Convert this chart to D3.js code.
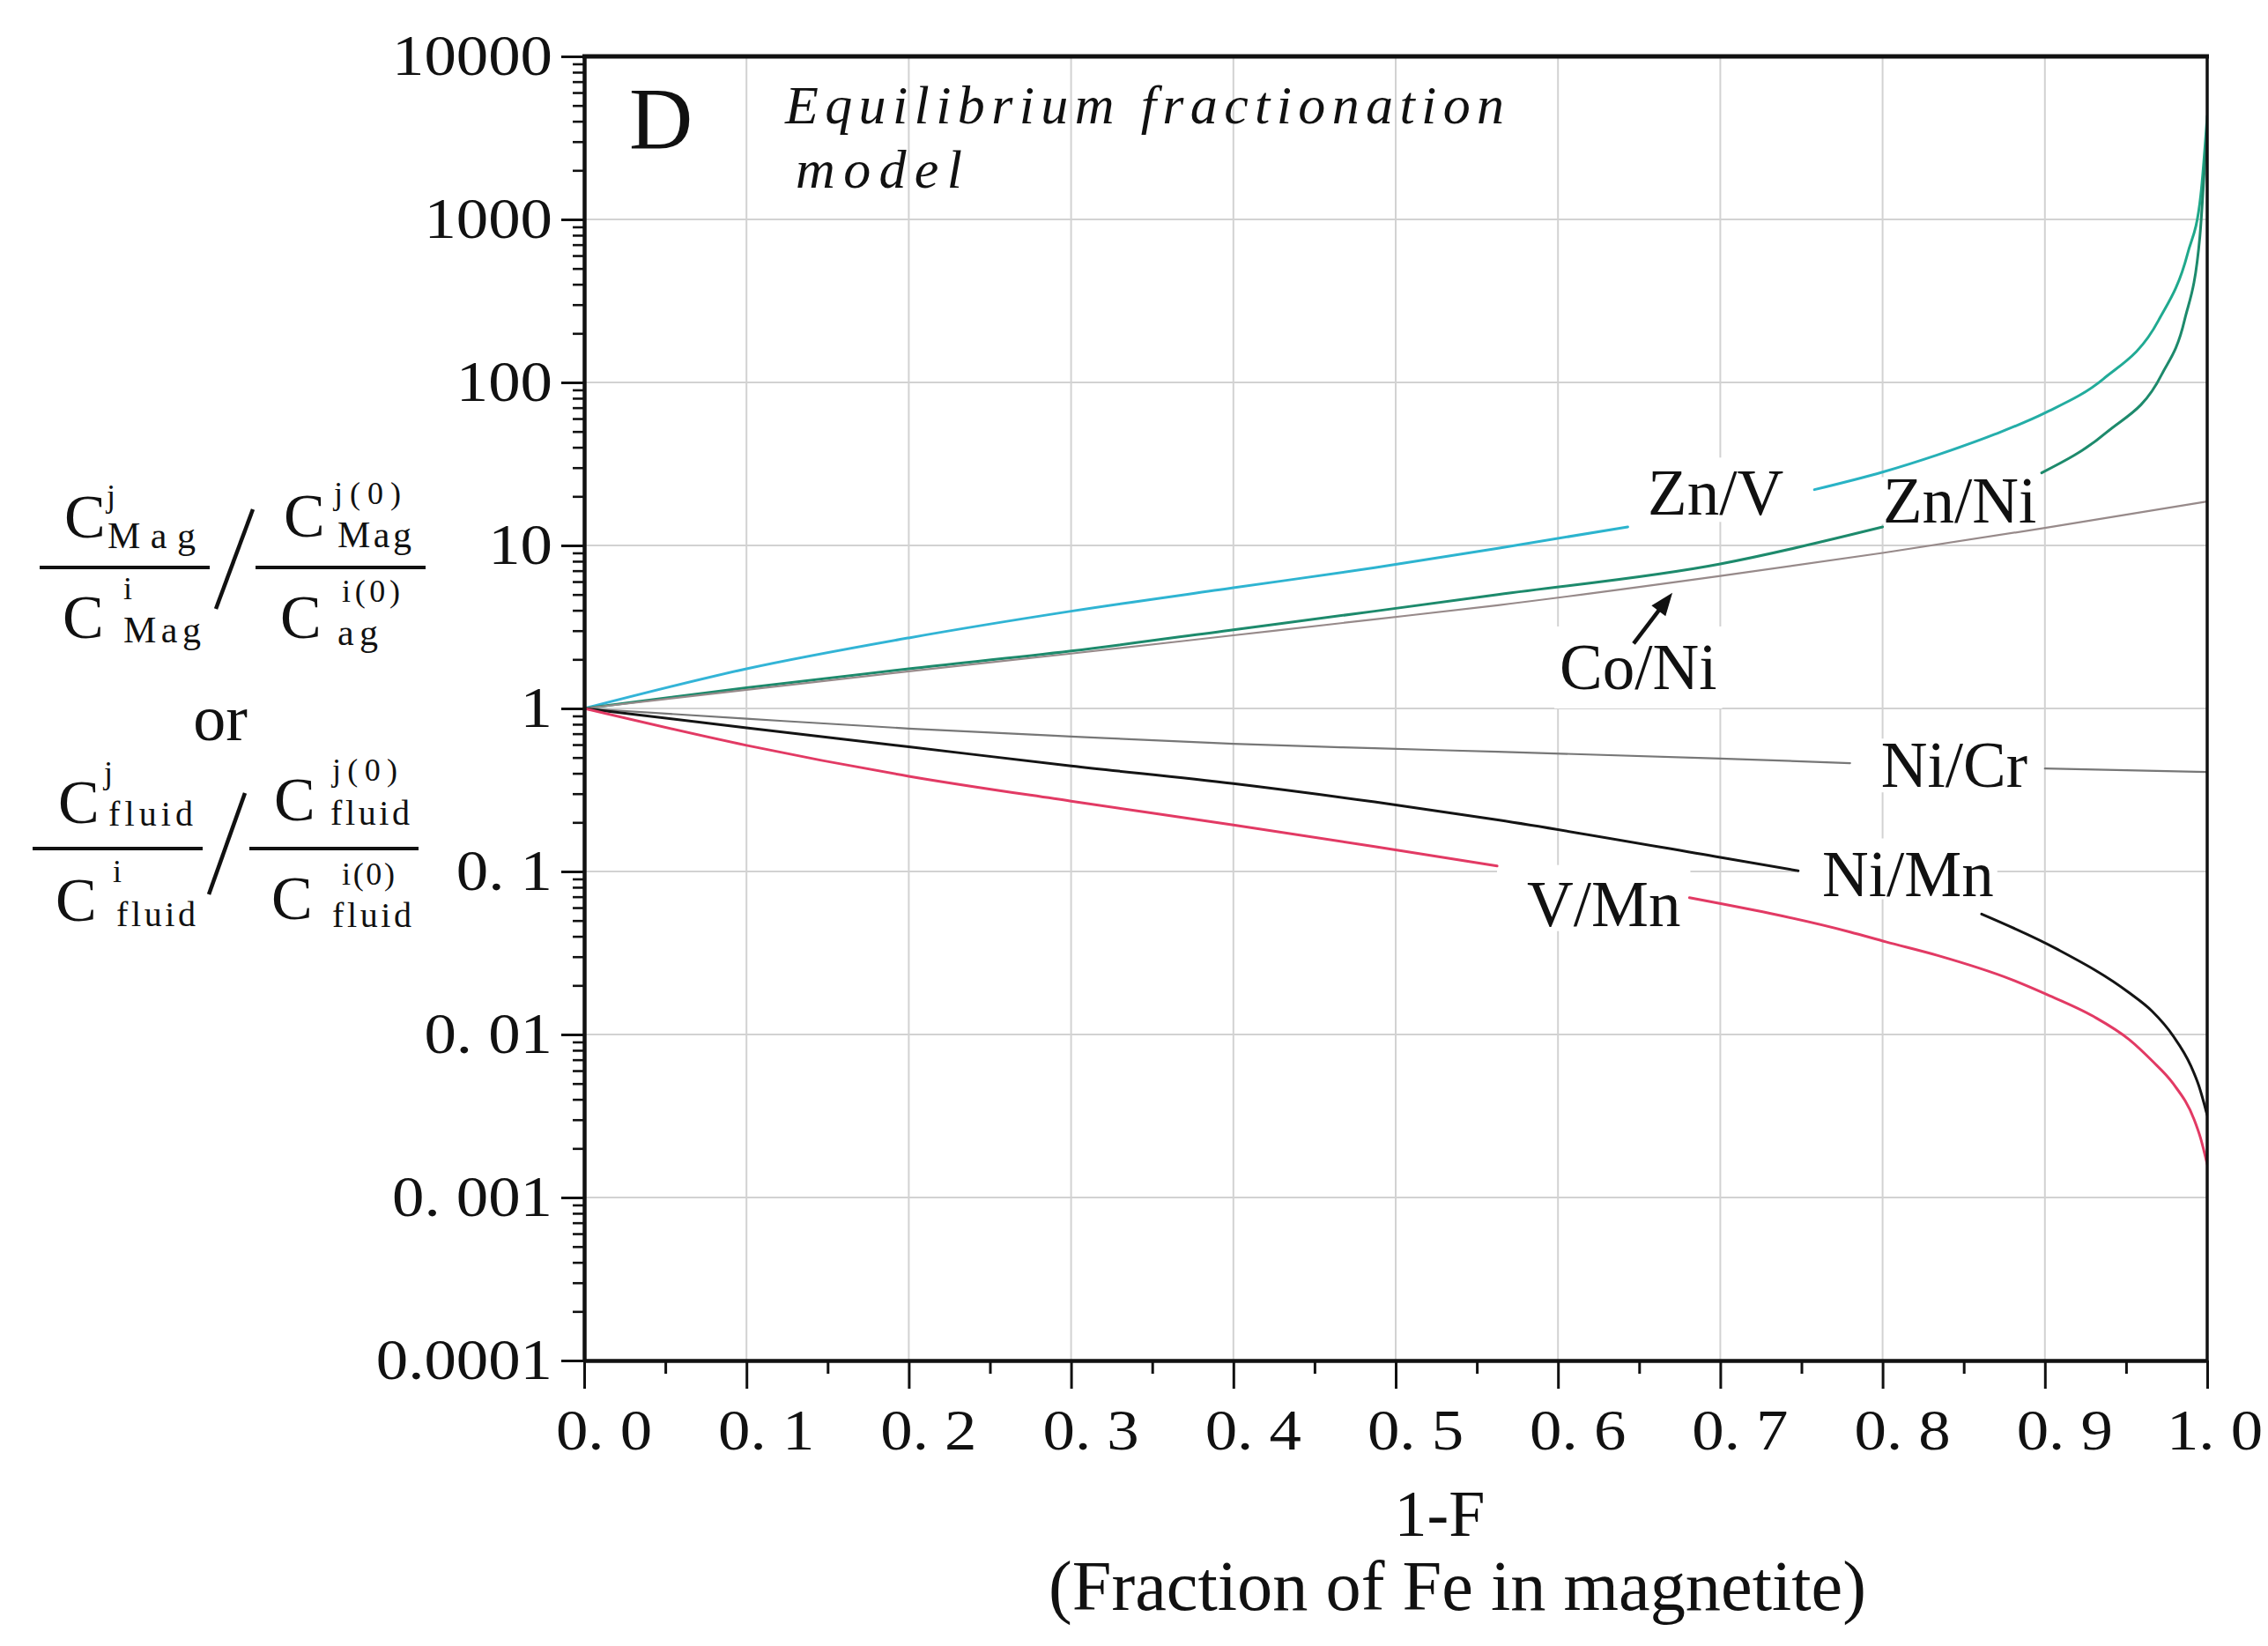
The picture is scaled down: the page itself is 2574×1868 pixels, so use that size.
<!DOCTYPE html>
<html>
<head>
<meta charset="utf-8">
<script src="https://cdn.jsdelivr.net/npm/d3@7"></script>
<style>
  body { margin: 0; background: #fff; }
  svg { display: block; }
  text { font-family: "Liberation Serif", "Times New Roman", serif; fill: #111; }
</style>
</head>
<body>
<svg id="chart" width="2574" height="1868"></svg>
<script>
// ---- data: ratio (normalised) vs 1-F, equilibrium fractionation model ----
const znV_x  = [0, 0.1, 0.2, 0.3, 0.4, 0.487, 0.563, 0.643, 0.7, 0.758, 0.8, 0.834, 0.869, 0.9, 0.936, 0.97, 0.988, 0.996, 1.0];
const znV_y  = [1, 1.75, 2.71, 3.95, 5.5, 7.3, 9.6, 13, 16.9, 22, 28.2, 36, 48, 65, 105, 240, 621, 1400, 4300];

const znNi_x = [0, 0.1, 0.2, 0.3, 0.4, 0.487, 0.563, 0.7, 0.78, 0.8, 0.85, 0.898, 0.938, 0.972, 0.986, 0.9955, 0.999, 1.0];
const znNi_y = [1, 1.34, 1.75, 2.25, 3.04, 3.95, 5.0, 7.7, 11.6, 13, 18.2, 27.9, 49.4, 112, 240, 789, 2600, 3600];

const coNi_x = [0, 0.1, 0.2, 0.3, 0.4, 0.487, 0.563, 0.7, 0.8, 0.9, 1.0];
const coNi_y = [1, 1.30, 1.69, 2.17, 2.81, 3.52, 4.3, 6.5, 9.0, 12.8, 18.6];

const niCr_x = [0, 0.1, 0.2, 0.3, 0.4, 0.487, 0.563, 0.7, 0.78, 0.9, 1.0];
const niCr_y = [1, 0.865, 0.753, 0.673, 0.607, 0.57, 0.542, 0.493, 0.462, 0.428, 0.407];

const niMn_x = [0, 0.1, 0.2, 0.3, 0.4, 0.487, 0.563, 0.7, 0.748, 0.8, 0.861, 0.907, 0.952, 0.966, 0.979, 0.99, 0.995, 0.998, 1.0];
const niMn_y = [1, 0.76, 0.582, 0.444, 0.346, 0.267, 0.207, 0.122, 0.101, 0.077, 0.0548, 0.0336, 0.018, 0.0139, 0.0098, 0.0064, 0.0048, 0.0038, 0.0032];

const vMn_x  = [0, 0.1, 0.2, 0.3, 0.4, 0.487, 0.5625, 0.681, 0.78, 0.802, 0.834, 0.879, 0.9, 0.93, 0.952, 0.966, 0.979, 0.992, 0.996, 1.0];
const vMn_y  = [1, 0.594, 0.384, 0.27, 0.193, 0.142, 0.108, 0.069, 0.0425, 0.037, 0.0305, 0.0218, 0.0178, 0.0129, 0.0093, 0.0069, 0.0050, 0.0030, 0.0023, 0.0016];

// x-ranges where a curve is interrupted by its label
const znV_gap  = [0.643, 0.758];
const znNi_gap = [0.8, 0.898];
const niCr_gap = [0.78, 0.9];
const niMn_gap = [0.748, 0.861];
const vMn_gap  = [0.5625, 0.681];

// axis ticks
const xTickValues = [0, 0.1, 0.2, 0.3, 0.4, 0.5, 0.6, 0.7, 0.8, 0.9, 1.0];
const xTickLabels = ["0. 0", "0. 1", "0. 2", "0. 3", "0. 4", "0. 5", "0. 6", "0. 7", "0. 8", "0. 9", "1. 0"];
const yTickValues = [1e4, 1e3, 1e2, 10, 1, 0.1, 0.01, 0.001, 0.0001];
const yTickLabels = ["10000", "1000", "100", "10", "1", "0. 1", "0. 01", "0. 001", "0.0001"];

// curve labels, anchored in data coordinates
const labelNames = ["Zn/V", "Zn/Ni", "Co/Ni", "Ni/Cr", "Ni/Mn", "V/Mn"];
const labelX     = [0.6553, 0.8002, 0.601, 0.799, 0.7628, 0.5809];
const labelY     = [15.4, 13.9, 1.316, 0.3294, 0.0710, 0.0464];

// ---- layout ----
const W = 2574, H = 1868;
const svg = d3.select("#chart");
const x = d3.scaleLinear().domain([0, 1]).range([663, 2505]);
const y = d3.scaleLog().domain([1e-4, 1e4]).range([1544, 64]);
const [px0, px1] = x.range();
const [py0, py1] = [y.range()[1], y.range()[0]];

svg.append("rect").attr("width", W).attr("height", H).attr("fill", "#fff");

const defs = svg.append("defs");
defs.append("clipPath").attr("id", "plotClip")
  .append("rect").attr("x", px0).attr("y", py0 - 2).attr("width", px1 - px0).attr("height", py1 - py0 + 4);
const grad = defs.append("linearGradient").attr("id", "znvGrad")
  .attr("gradientUnits", "userSpaceOnUse")
  .attr("x1", px0).attr("x2", px1).attr("y1", 0).attr("y2", 0);
grad.append("stop").attr("offset", "0").attr("stop-color", "#34b4d8");
grad.append("stop").attr("offset", "0.75").attr("stop-color", "#2ab4cc");
grad.append("stop").attr("offset", "1").attr("stop-color", "#1fa888");

// grid
const grid = svg.append("g").attr("stroke", "#d2d2d2").attr("stroke-width", 2);
grid.selectAll("line.gv").data(xTickValues.slice(1, -1)).join("line")
  .attr("class", "gv")
  .attr("x1", d => x(d)).attr("x2", d => x(d)).attr("y1", py0).attr("y2", py1);
grid.selectAll("line.gh").data(yTickValues.slice(1, -1)).join("line")
  .attr("class", "gh")
  .attr("x1", px0).attr("x2", px1).attr("y1", d => y(d)).attr("y2", d => y(d));

// white boxes behind labels (they interrupt the grid)
const knock = svg.append("g");

// curves
const series = [
  { xs: znV_x,  ys: znV_y,  gap: znV_gap,  color: "url(#znvGrad)", width: 3 },
  { xs: znNi_x, ys: znNi_y, gap: znNi_gap, color: "#1d8a6c", width: 3 },
  { xs: coNi_x, ys: coNi_y, gap: null,     color: "#978a8a", width: 2.2 },
  { xs: niCr_x, ys: niCr_y, gap: niCr_gap, color: "#777777", width: 2.2 },
  { xs: niMn_x, ys: niMn_y, gap: niMn_gap, color: "#141414", width: 3 },
  { xs: vMn_x,  ys: vMn_y,  gap: vMn_gap,  color: "#e23a64", width: 3 }
];

function segments(s) {
  const pts = s.xs.map((v, i) => [v, s.ys[i]]);
  if (!s.gap) return [pts];
  return [pts.filter(p => p[0] <= s.gap[0]), pts.filter(p => p[0] >= s.gap[1])];
}

const line = d3.line().x(d => x(d[0])).y(d => y(d[1])).curve(d3.curveMonotoneX);
const curves = svg.append("g").attr("clip-path", "url(#plotClip)").attr("fill", "none")
  .attr("stroke-linejoin", "round").attr("stroke-linecap", "round");
series.forEach(s => {
  segments(s).forEach(seg => {
    curves.append("path").attr("d", line(seg))
      .attr("stroke", s.color).attr("stroke-width", s.width);
  });
});

// axes
function styleAxis(g, width) {
  g.attr("font-family", "'Liberation Serif', 'Times New Roman', serif").attr("font-size", 65);
  g.select(".domain").attr("stroke", "#111").attr("stroke-width", width);
  g.selectAll(".tick line").attr("stroke", "#111").attr("stroke-width", 3);
  g.selectAll(".tick text").attr("fill", "#111").each(function () {
    // the tick numerals are set a little wide
    const w = this.getComputedTextLength();
    d3.select(this).attr("textLength", w * 1.12).attr("lengthAdjust", "spacingAndGlyphs");
  });
}

const yMinor = [];
for (let k = -4; k < 4; k++) for (let m = 2; m <= 9; m++) yMinor.push(m * Math.pow(10, k));
const xMinor = xTickValues.slice(0, -1).map(v => v + 0.05);

const gyMinor = svg.append("g").attr("transform", `translate(${px0},0)`)
  .call(d3.axisLeft(y).tickValues(yMinor).tickSize(13).tickSizeOuter(0).tickFormat(""));
gyMinor.select(".domain").remove();
gyMinor.selectAll(".tick line").attr("stroke", "#111").attr("stroke-width", 2.6);

const gy = svg.append("g").attr("transform", `translate(${px0},0)`)
  .call(d3.axisLeft(y).tickValues(yTickValues).tickSize(26).tickSizeOuter(0)
    .tickPadding(10).tickFormat((d, i) => yTickLabels[i]));
styleAxis(gy, 4.5);

const gxMinor = svg.append("g").attr("transform", `translate(0,${py1})`)
  .call(d3.axisBottom(x).tickValues(xMinor).tickSize(15).tickSizeOuter(0).tickFormat(""));
gxMinor.select(".domain").remove();
gxMinor.selectAll(".tick line").attr("stroke", "#111").attr("stroke-width", 3);

const gx = svg.append("g").attr("transform", `translate(0,${py1})`)
  .call(d3.axisBottom(x).tickValues(xTickValues).tickSize(32).tickSizeOuter(0)
    .tickPadding(23).tickFormat((d, i) => xTickLabels[i]));
styleAxis(gx, 4.5);
gx.selectAll(".tick text").attr("dx", (d, i) => i === xTickValues.length - 1 ? 8 : 22);

// frame top and right
svg.append("line").attr("x1", px0 - 2).attr("x2", px1 + 2).attr("y1", py0).attr("y2", py0)
  .attr("stroke", "#111").attr("stroke-width", 5);
svg.append("line").attr("x1", px1).attr("x2", px1).attr("y1", py0).attr("y2", py1)
  .attr("stroke", "#111").attr("stroke-width", 3.5);

// text helper
function tx(g, xp, yp, str, size, extra) {
  const t = g.append("text").attr("x", xp).attr("y", yp).attr("font-size", size).text(str);
  if (extra) Object.keys(extra).forEach(k => t.attr(k, extra[k]));
  return t;
}

// curve labels with white knockout boxes
const labelPads = [[6, 6, 0, -8], [4, 4, -14, -14], [6, 6, 6, 6], [10, 10, -10, -10], [30, 4, 0, -12], [34, 11, 4, -10]];
const labels = svg.append("g");
labelNames.forEach((name, i) => {
  const t = tx(labels, x(labelX[i]), y(labelY[i]), name, 73);
  const b = t.node().getBBox();
  const p = labelPads[i];
  knock.append("rect")
    .attr("x", b.x - p[0]).attr("y", b.y - p[2])
    .attr("width", b.width + p[0] + p[1]).attr("height", b.height + p[2] + p[3])
    .attr("fill", "#fff");
});

// arrow pointing from the Co/Ni label to its curve
(function () {
  const x0 = x(0.6466), y0 = y(2.50), x1 = x(0.6705), y1 = y(5.13);
  const dx = x1 - x0, dy = y1 - y0, L = Math.hypot(dx, dy);
  const ux = dx / L, uy = dy / L, hl = 26, hw = 10;
  const bx = x1 - ux * hl, by = y1 - uy * hl;
  svg.append("line").attr("x1", x0).attr("y1", y0).attr("x2", bx + ux * 2).attr("y2", by + uy * 2)
    .attr("stroke", "#111").attr("stroke-width", 4.5);
  svg.append("path")
    .attr("d", `M${x1},${y1}L${bx - uy * hw},${by + ux * hw}L${bx + uy * hw},${by - ux * hw}Z`)
    .attr("fill", "#111");
})();

// panel letter and model name
tx(svg, 714, 168, "D", 100);
tx(svg, 891, 140, "Equilibrium fractionation", 62,
  { "font-style": "italic", textLength: 816, lengthAdjust: "spacing", fill: "#2a2a2a" });
tx(svg, 903, 213, "model", 62,
  { "font-style": "italic", textLength: 189, lengthAdjust: "spacing", fill: "#2a2a2a" });

// x-axis title
tx(svg, 1634, 1743, "1-F", 74, { "text-anchor": "middle" });
tx(svg, 1190, 1827, "(Fraction of Fe in magnetite)", 80, { textLength: 928, lengthAdjust: "spacingAndGlyphs" });

// y-axis title: stacked ratio expression
const F = svg.append("g");
const sp = { lengthAdjust: "spacing" };
function bar(x1, x2, yy) {
  F.append("line").attr("x1", x1).attr("x2", x2).attr("y1", yy).attr("y2", yy)
    .attr("stroke", "#111").attr("stroke-width", 4);
}
function slash(x1, y1, x2, y2) {
  F.append("line").attr("x1", x1).attr("y1", y1).attr("x2", x2).attr("y2", y2)
    .attr("stroke", "#111").attr("stroke-width", 4.5);
}
const cs = 70, ss = 36, bs = 42;
// first expression (magnetite)
tx(F, 73, 610, "C", cs);
tx(F, 121, 575, "j", ss);
tx(F, 122, 622, "Mag", bs, Object.assign({ textLength: 100 }, sp));
bar(45, 238, 644);
tx(F, 71, 724, "C", cs);
tx(F, 140, 680, "i", ss);
tx(F, 140, 729, "Mag", bs, Object.assign({ textLength: 88 }, sp));
slash(287, 578, 245, 691);
tx(F, 322, 609, "C", cs);
tx(F, 379, 572, "j(0)", ss, Object.assign({ textLength: 76 }, sp));
tx(F, 383, 621, "Mag", bs, Object.assign({ textLength: 84 }, sp));
bar(290, 483, 644);
tx(F, 318, 724, "C", cs);
tx(F, 388, 683, "i(0)", ss, Object.assign({ textLength: 66 }, sp));
tx(F, 383, 732, "ag", bs, Object.assign({ textLength: 46 }, sp));

tx(F, 250, 840, "or", 74, { "text-anchor": "middle" });

// second expression (fluid)
tx(F, 66, 934, "C", cs);
tx(F, 118, 889, "j", ss);
tx(F, 123, 937, "fluid", 40, Object.assign({ textLength: 96 }, sp));
bar(37, 230, 963);
tx(F, 63, 1045, "C", cs);
tx(F, 128, 1001, "i", ss);
tx(F, 132, 1051, "fluid", 40, Object.assign({ textLength: 90 }, sp));
slash(278, 900, 237, 1015);
tx(F, 311, 931, "C", cs);
tx(F, 377, 886, "j(0)", ss, Object.assign({ textLength: 74 }, sp));
tx(F, 375, 936, "fluid", 40, Object.assign({ textLength: 90 }, sp));
bar(283, 475, 963);
tx(F, 308, 1043, "C", cs);
tx(F, 388, 1004, "i(0)", ss, Object.assign({ textLength: 60 }, sp));
tx(F, 377, 1052, "fluid", 40, Object.assign({ textLength: 90 }, sp));
</script>
</body>
</html>
